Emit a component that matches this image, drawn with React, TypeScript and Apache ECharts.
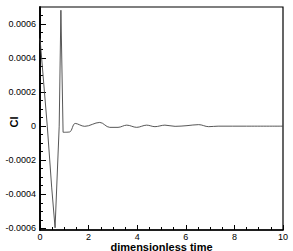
import React, { useEffect, useRef } from "react";
import * as echarts from "echarts";

// sharp initial transient
const timeA = [0, 0.3, 0.48, 0.62, 0.79, 0.86, 0.95];
const clA = [0.000515, 0.0, -0.000358, -0.000597, 0.0, 0.000681, -0.000036];
// decaying oscillation
const timeB = [0.95, 1.22, 1.45, 1.84, 2.46, 2.87, 3.21, 3.57, 3.98, 4.39, 4.73, 5.14, 5.56, 6.05, 6.53, 6.94, 7.33, 8.5, 10];
const clB = [-0.000036, -0.000034, 0.000016, -0.000001, 0.000022, -0.000007, -0.000007, 0.000006, -0.000007, 0.000006, -0.000003, 0.000006, -0.000001, 0.000003, 0.000009, -0.000003, 0.0, 0.0, 0.0];

const yMajor = [-0.0006, -0.0004, -0.0002, 0, 0.0002, 0.0004, 0.0006];
const yMinor = [
  -0.00055, -0.0005, -0.00045, -0.00035, -0.0003, -0.00025, -0.00015, -0.0001, -0.00005,
  0.00005, 0.0001, 0.00015, 0.00025, 0.0003, 0.00035, 0.00045, 0.0005, 0.00055, 0.00065,
];
const xTitle = "dimensionless time";
const yTitle = "Cl";

export default function App() {
  const ref = useRef<HTMLDivElement>(null);
  useEffect(() => {
    if (!ref.current) return;
    const chart = echarts.init(ref.current, undefined, { renderer: "svg" });
    const font = "'Liberation Sans', Arial, sans-serif";
    const yBase = {
      type: "value",
      min: -0.00061,
      max: 0.0007,
      position: "left",
      splitLine: { show: false },
      axisLine: { show: true, onZero: false, lineStyle: { color: "#000", width: 1.5 } },
    };
    chart.setOption({
      animation: false,
      backgroundColor: "#fff",
      grid: {
        left: 40,
        right: 10,
        top: 7,
        bottom: 21,
        show: true,
        borderColor: "#000",
        borderWidth: 1.2,
        containLabel: false,
        outerBoundsMode: "none",
      },
      xAxis: {
        type: "value",
        min: 0,
        max: 10,
        interval: 2,
        axisLine: { onZero: false, lineStyle: { color: "#000", width: 1.5 } },
        axisTick: { inside: true, length: 5, lineStyle: { color: "#000" } },
        minorTick: { show: true, splitNumber: 4, length: 3, lineStyle: { color: "#000" } },
        splitLine: { show: false },
        axisLabel: { fontFamily: font, fontSize: 9, lineHeight: 9, color: "#000", margin: 2 },
      },
      yAxis: [
        {
          ...yBase,
          axisTick: { show: true, inside: true, length: 6, customValues: yMajor, lineStyle: { color: "#000" } },
          axisLabel: {
            fontFamily: font,
            fontSize: 9,
            color: "#000",
            margin: 4,
            customValues: yMajor,
            formatter: (v: number) => (Math.abs(v) < 1e-12 ? "0" : v.toFixed(4)),
          },
        },
        {
          ...yBase,
          axisTick: { show: true, inside: true, length: 3, customValues: yMinor, lineStyle: { color: "#000" } },
          axisLabel: { show: false },
        },
      ],
      graphic: [
        {
          type: "text",
          x: 13.5,
          y: 122,
          rotation: Math.PI / 2,
          style: {
            text: yTitle,
            font: `bold 11px ${font}`,
            fill: "#000",
            align: "center",
            verticalAlign: "middle",
          },
        },
        {
          type: "text",
          x: 161.5,
          y: 246.5,
          style: {
            text: xTitle,
            font: `bold 11px ${font}`,
            lineHeight: 10,
            fill: "#000",
            align: "center",
            verticalAlign: "middle",
          },
        },
      ],
      series: [
        {
          type: "line",
          data: timeA.map((t, i) => [t, clA[i]]),
          showSymbol: false,
          lineStyle: { color: "#444", width: 0.9 },
        },
        {
          type: "line",
          data: timeB.map((t, i) => [t, clB[i]]),
          showSymbol: false,
          smooth: 0.35,
          lineStyle: { color: "#444", width: 0.9 },
        },
      ],
    });
    return () => chart.dispose();
  }, []);
  return (
    <div
      ref={ref}
      style={{ position: "fixed", left: 0, top: 0, width: 293, height: 251 }}
    />
  );
}
